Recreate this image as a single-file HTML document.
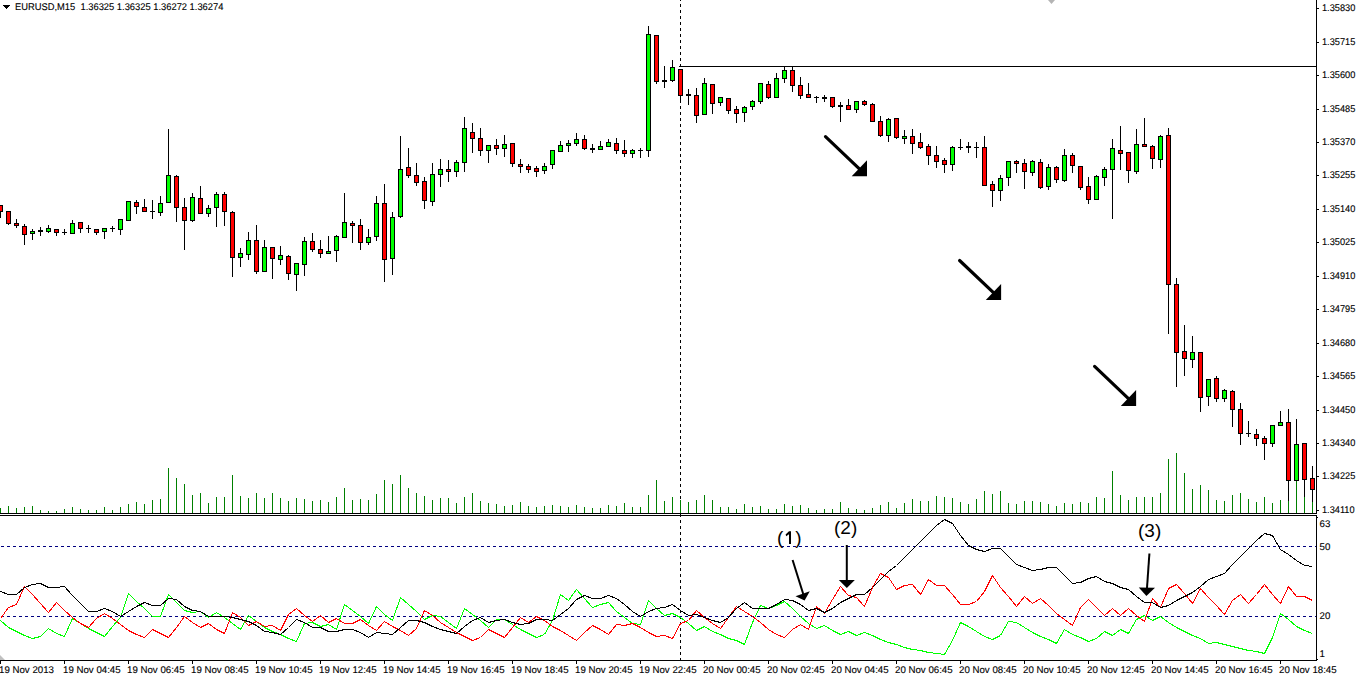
<!DOCTYPE html>
<html><head><meta charset="utf-8"><title>EURUSD,M15</title>
<style>
html,body{margin:0;padding:0;background:#fff;}
body{width:1359px;height:674px;overflow:hidden;font-family:"Liberation Sans",sans-serif;}
svg{display:block;}
</style></head><body>
<svg width="1359" height="674" viewBox="0 0 1359 674">
<rect width="1359" height="674" fill="#fff"/>
<path d="M680 0h1v1h-1zM680 4h1v3h-1zM680 10h1v3h-1zM680 16h1v3h-1zM680 22h1v3h-1zM680 28h1v3h-1zM680 34h1v3h-1zM680 40h1v3h-1zM680 46h1v3h-1zM680 52h1v3h-1zM680 58h1v3h-1zM680 64h1v3h-1zM680 70h1v3h-1zM680 76h1v3h-1zM680 82h1v3h-1zM680 88h1v3h-1zM680 94h1v3h-1zM680 100h1v3h-1zM680 106h1v3h-1zM680 112h1v3h-1zM680 118h1v3h-1zM680 124h1v3h-1zM680 130h1v3h-1zM680 136h1v3h-1zM680 142h1v3h-1zM680 148h1v3h-1zM680 154h1v3h-1zM680 160h1v3h-1zM680 166h1v3h-1zM680 172h1v3h-1zM680 178h1v3h-1zM680 184h1v3h-1zM680 190h1v3h-1zM680 196h1v3h-1zM680 202h1v3h-1zM680 208h1v3h-1zM680 214h1v3h-1zM680 220h1v3h-1zM680 226h1v3h-1zM680 232h1v3h-1zM680 238h1v3h-1zM680 244h1v3h-1zM680 250h1v3h-1zM680 256h1v3h-1zM680 262h1v3h-1zM680 268h1v3h-1zM680 274h1v3h-1zM680 280h1v3h-1zM680 286h1v3h-1zM680 292h1v3h-1zM680 298h1v3h-1zM680 304h1v3h-1zM680 310h1v3h-1zM680 316h1v3h-1zM680 322h1v3h-1zM680 328h1v3h-1zM680 334h1v3h-1zM680 340h1v3h-1zM680 346h1v3h-1zM680 352h1v3h-1zM680 358h1v3h-1zM680 364h1v3h-1zM680 370h1v3h-1zM680 376h1v3h-1zM680 382h1v3h-1zM680 388h1v3h-1zM680 394h1v3h-1zM680 400h1v3h-1zM680 406h1v3h-1zM680 412h1v3h-1zM680 418h1v3h-1zM680 424h1v3h-1zM680 430h1v3h-1zM680 436h1v3h-1zM680 442h1v3h-1zM680 448h1v3h-1zM680 454h1v3h-1zM680 460h1v3h-1zM680 466h1v3h-1zM680 472h1v3h-1zM680 478h1v3h-1zM680 484h1v3h-1zM680 490h1v3h-1zM680 496h1v3h-1zM680 502h1v3h-1zM680 508h1v3h-1zM680 514h1v3h-1zM680 520h1v3h-1zM680 526h1v3h-1zM680 532h1v3h-1zM680 538h1v3h-1zM680 544h1v3h-1zM680 550h1v3h-1zM680 556h1v3h-1zM680 562h1v3h-1zM680 568h1v3h-1zM680 574h1v3h-1zM680 580h1v3h-1zM680 586h1v3h-1zM680 592h1v3h-1zM680 598h1v3h-1zM680 604h1v3h-1zM680 610h1v3h-1zM680 616h1v3h-1zM680 622h1v3h-1zM680 628h1v3h-1zM680 634h1v3h-1zM680 640h1v3h-1zM680 646h1v3h-1zM680 652h1v3h-1zM680 658h1v3h-1z" fill="#000"/>
<path d="M1 546h3v1h-3zM7 546h3v1h-3zM13 546h3v1h-3zM19 546h3v1h-3zM25 546h3v1h-3zM31 546h3v1h-3zM37 546h3v1h-3zM43 546h3v1h-3zM49 546h3v1h-3zM55 546h3v1h-3zM61 546h3v1h-3zM67 546h3v1h-3zM73 546h3v1h-3zM79 546h3v1h-3zM85 546h3v1h-3zM91 546h3v1h-3zM97 546h3v1h-3zM103 546h3v1h-3zM109 546h3v1h-3zM115 546h3v1h-3zM121 546h3v1h-3zM127 546h3v1h-3zM133 546h3v1h-3zM139 546h3v1h-3zM145 546h3v1h-3zM151 546h3v1h-3zM157 546h3v1h-3zM163 546h3v1h-3zM169 546h3v1h-3zM175 546h3v1h-3zM181 546h3v1h-3zM187 546h3v1h-3zM193 546h3v1h-3zM199 546h3v1h-3zM205 546h3v1h-3zM211 546h3v1h-3zM217 546h3v1h-3zM223 546h3v1h-3zM229 546h3v1h-3zM235 546h3v1h-3zM241 546h3v1h-3zM247 546h3v1h-3zM253 546h3v1h-3zM259 546h3v1h-3zM265 546h3v1h-3zM271 546h3v1h-3zM277 546h3v1h-3zM283 546h3v1h-3zM289 546h3v1h-3zM295 546h3v1h-3zM301 546h3v1h-3zM307 546h3v1h-3zM313 546h3v1h-3zM319 546h3v1h-3zM325 546h3v1h-3zM331 546h3v1h-3zM337 546h3v1h-3zM343 546h3v1h-3zM349 546h3v1h-3zM355 546h3v1h-3zM361 546h3v1h-3zM367 546h3v1h-3zM373 546h3v1h-3zM379 546h3v1h-3zM385 546h3v1h-3zM391 546h3v1h-3zM397 546h3v1h-3zM403 546h3v1h-3zM409 546h3v1h-3zM415 546h3v1h-3zM421 546h3v1h-3zM427 546h3v1h-3zM433 546h3v1h-3zM439 546h3v1h-3zM445 546h3v1h-3zM451 546h3v1h-3zM457 546h3v1h-3zM463 546h3v1h-3zM469 546h3v1h-3zM475 546h3v1h-3zM481 546h3v1h-3zM487 546h3v1h-3zM493 546h3v1h-3zM499 546h3v1h-3zM505 546h3v1h-3zM511 546h3v1h-3zM517 546h3v1h-3zM523 546h3v1h-3zM529 546h3v1h-3zM535 546h3v1h-3zM541 546h3v1h-3zM547 546h3v1h-3zM553 546h3v1h-3zM559 546h3v1h-3zM565 546h3v1h-3zM571 546h3v1h-3zM577 546h3v1h-3zM583 546h3v1h-3zM589 546h3v1h-3zM595 546h3v1h-3zM601 546h3v1h-3zM607 546h3v1h-3zM613 546h3v1h-3zM619 546h3v1h-3zM625 546h3v1h-3zM631 546h3v1h-3zM637 546h3v1h-3zM643 546h3v1h-3zM649 546h3v1h-3zM655 546h3v1h-3zM661 546h3v1h-3zM667 546h3v1h-3zM673 546h3v1h-3zM679 546h3v1h-3zM685 546h3v1h-3zM691 546h3v1h-3zM697 546h3v1h-3zM703 546h3v1h-3zM709 546h3v1h-3zM715 546h3v1h-3zM721 546h3v1h-3zM727 546h3v1h-3zM733 546h3v1h-3zM739 546h3v1h-3zM745 546h3v1h-3zM751 546h3v1h-3zM757 546h3v1h-3zM763 546h3v1h-3zM769 546h3v1h-3zM775 546h3v1h-3zM781 546h3v1h-3zM787 546h3v1h-3zM793 546h3v1h-3zM799 546h3v1h-3zM805 546h3v1h-3zM811 546h3v1h-3zM817 546h3v1h-3zM823 546h3v1h-3zM829 546h3v1h-3zM835 546h3v1h-3zM841 546h3v1h-3zM847 546h3v1h-3zM853 546h3v1h-3zM859 546h3v1h-3zM865 546h3v1h-3zM871 546h3v1h-3zM877 546h3v1h-3zM883 546h3v1h-3zM889 546h3v1h-3zM895 546h3v1h-3zM901 546h3v1h-3zM907 546h3v1h-3zM913 546h3v1h-3zM919 546h3v1h-3zM925 546h3v1h-3zM931 546h3v1h-3zM937 546h3v1h-3zM943 546h3v1h-3zM949 546h3v1h-3zM955 546h3v1h-3zM961 546h3v1h-3zM967 546h3v1h-3zM973 546h3v1h-3zM979 546h3v1h-3zM985 546h3v1h-3zM991 546h3v1h-3zM997 546h3v1h-3zM1003 546h3v1h-3zM1009 546h3v1h-3zM1015 546h3v1h-3zM1021 546h3v1h-3zM1027 546h3v1h-3zM1033 546h3v1h-3zM1039 546h3v1h-3zM1045 546h3v1h-3zM1051 546h3v1h-3zM1057 546h3v1h-3zM1063 546h3v1h-3zM1069 546h3v1h-3zM1075 546h3v1h-3zM1081 546h3v1h-3zM1087 546h3v1h-3zM1093 546h3v1h-3zM1099 546h3v1h-3zM1105 546h3v1h-3zM1111 546h3v1h-3zM1117 546h3v1h-3zM1123 546h3v1h-3zM1129 546h3v1h-3zM1135 546h3v1h-3zM1141 546h3v1h-3zM1147 546h3v1h-3zM1153 546h3v1h-3zM1159 546h3v1h-3zM1165 546h3v1h-3zM1171 546h3v1h-3zM1177 546h3v1h-3zM1183 546h3v1h-3zM1189 546h3v1h-3zM1195 546h3v1h-3zM1201 546h3v1h-3zM1207 546h3v1h-3zM1213 546h3v1h-3zM1219 546h3v1h-3zM1225 546h3v1h-3zM1231 546h3v1h-3zM1237 546h3v1h-3zM1243 546h3v1h-3zM1249 546h3v1h-3zM1255 546h3v1h-3zM1261 546h3v1h-3zM1267 546h3v1h-3zM1273 546h3v1h-3zM1279 546h3v1h-3zM1285 546h3v1h-3zM1291 546h3v1h-3zM1297 546h3v1h-3zM1303 546h3v1h-3zM1309 546h3v1h-3zM1315 546h1v1h-1z" fill="#000080"/>
<path d="M1 616h3v1h-3zM7 616h3v1h-3zM13 616h3v1h-3zM19 616h3v1h-3zM25 616h3v1h-3zM31 616h3v1h-3zM37 616h3v1h-3zM43 616h3v1h-3zM49 616h3v1h-3zM55 616h3v1h-3zM61 616h3v1h-3zM67 616h3v1h-3zM73 616h3v1h-3zM79 616h3v1h-3zM85 616h3v1h-3zM91 616h3v1h-3zM97 616h3v1h-3zM103 616h3v1h-3zM109 616h3v1h-3zM115 616h3v1h-3zM121 616h3v1h-3zM127 616h3v1h-3zM133 616h3v1h-3zM139 616h3v1h-3zM145 616h3v1h-3zM151 616h3v1h-3zM157 616h3v1h-3zM163 616h3v1h-3zM169 616h3v1h-3zM175 616h3v1h-3zM181 616h3v1h-3zM187 616h3v1h-3zM193 616h3v1h-3zM199 616h3v1h-3zM205 616h3v1h-3zM211 616h3v1h-3zM217 616h3v1h-3zM223 616h3v1h-3zM229 616h3v1h-3zM235 616h3v1h-3zM241 616h3v1h-3zM247 616h3v1h-3zM253 616h3v1h-3zM259 616h3v1h-3zM265 616h3v1h-3zM271 616h3v1h-3zM277 616h3v1h-3zM283 616h3v1h-3zM289 616h3v1h-3zM295 616h3v1h-3zM301 616h3v1h-3zM307 616h3v1h-3zM313 616h3v1h-3zM319 616h3v1h-3zM325 616h3v1h-3zM331 616h3v1h-3zM337 616h3v1h-3zM343 616h3v1h-3zM349 616h3v1h-3zM355 616h3v1h-3zM361 616h3v1h-3zM367 616h3v1h-3zM373 616h3v1h-3zM379 616h3v1h-3zM385 616h3v1h-3zM391 616h3v1h-3zM397 616h3v1h-3zM403 616h3v1h-3zM409 616h3v1h-3zM415 616h3v1h-3zM421 616h3v1h-3zM427 616h3v1h-3zM433 616h3v1h-3zM439 616h3v1h-3zM445 616h3v1h-3zM451 616h3v1h-3zM457 616h3v1h-3zM463 616h3v1h-3zM469 616h3v1h-3zM475 616h3v1h-3zM481 616h3v1h-3zM487 616h3v1h-3zM493 616h3v1h-3zM499 616h3v1h-3zM505 616h3v1h-3zM511 616h3v1h-3zM517 616h3v1h-3zM523 616h3v1h-3zM529 616h3v1h-3zM535 616h3v1h-3zM541 616h3v1h-3zM547 616h3v1h-3zM553 616h3v1h-3zM559 616h3v1h-3zM565 616h3v1h-3zM571 616h3v1h-3zM577 616h3v1h-3zM583 616h3v1h-3zM589 616h3v1h-3zM595 616h3v1h-3zM601 616h3v1h-3zM607 616h3v1h-3zM613 616h3v1h-3zM619 616h3v1h-3zM625 616h3v1h-3zM631 616h3v1h-3zM637 616h3v1h-3zM643 616h3v1h-3zM649 616h3v1h-3zM655 616h3v1h-3zM661 616h3v1h-3zM667 616h3v1h-3zM673 616h3v1h-3zM679 616h3v1h-3zM685 616h3v1h-3zM691 616h3v1h-3zM697 616h3v1h-3zM703 616h3v1h-3zM709 616h3v1h-3zM715 616h3v1h-3zM721 616h3v1h-3zM727 616h3v1h-3zM733 616h3v1h-3zM739 616h3v1h-3zM745 616h3v1h-3zM751 616h3v1h-3zM757 616h3v1h-3zM763 616h3v1h-3zM769 616h3v1h-3zM775 616h3v1h-3zM781 616h3v1h-3zM787 616h3v1h-3zM793 616h3v1h-3zM799 616h3v1h-3zM805 616h3v1h-3zM811 616h3v1h-3zM817 616h3v1h-3zM823 616h3v1h-3zM829 616h3v1h-3zM835 616h3v1h-3zM841 616h3v1h-3zM847 616h3v1h-3zM853 616h3v1h-3zM859 616h3v1h-3zM865 616h3v1h-3zM871 616h3v1h-3zM877 616h3v1h-3zM883 616h3v1h-3zM889 616h3v1h-3zM895 616h3v1h-3zM901 616h3v1h-3zM907 616h3v1h-3zM913 616h3v1h-3zM919 616h3v1h-3zM925 616h3v1h-3zM931 616h3v1h-3zM937 616h3v1h-3zM943 616h3v1h-3zM949 616h3v1h-3zM955 616h3v1h-3zM961 616h3v1h-3zM967 616h3v1h-3zM973 616h3v1h-3zM979 616h3v1h-3zM985 616h3v1h-3zM991 616h3v1h-3zM997 616h3v1h-3zM1003 616h3v1h-3zM1009 616h3v1h-3zM1015 616h3v1h-3zM1021 616h3v1h-3zM1027 616h3v1h-3zM1033 616h3v1h-3zM1039 616h3v1h-3zM1045 616h3v1h-3zM1051 616h3v1h-3zM1057 616h3v1h-3zM1063 616h3v1h-3zM1069 616h3v1h-3zM1075 616h3v1h-3zM1081 616h3v1h-3zM1087 616h3v1h-3zM1093 616h3v1h-3zM1099 616h3v1h-3zM1105 616h3v1h-3zM1111 616h3v1h-3zM1117 616h3v1h-3zM1123 616h3v1h-3zM1129 616h3v1h-3zM1135 616h3v1h-3zM1141 616h3v1h-3zM1147 616h3v1h-3zM1153 616h3v1h-3zM1159 616h3v1h-3zM1165 616h3v1h-3zM1171 616h3v1h-3zM1177 616h3v1h-3zM1183 616h3v1h-3zM1189 616h3v1h-3zM1195 616h3v1h-3zM1201 616h3v1h-3zM1207 616h3v1h-3zM1213 616h3v1h-3zM1219 616h3v1h-3zM1225 616h3v1h-3zM1231 616h3v1h-3zM1237 616h3v1h-3zM1243 616h3v1h-3zM1249 616h3v1h-3zM1255 616h3v1h-3zM1261 616h3v1h-3zM1267 616h3v1h-3zM1273 616h3v1h-3zM1279 616h3v1h-3zM1285 616h3v1h-3zM1291 616h3v1h-3zM1297 616h3v1h-3zM1303 616h3v1h-3zM1309 616h3v1h-3zM1315 616h1v1h-1z" fill="#000080"/>
<rect x="679" y="66" width="637" height="1" fill="#000"/>
<path d="M0 205h1v13h-1zM8 211h1v14h-1zM16 219h1v9h-1zM24 224h1v21h-1zM32 229h1v11h-1zM40 227h1v9h-1zM48 225h1v8h-1zM56 229h1v7h-1zM64 229h1v6h-1zM72 220h1v14h-1zM80 222h1v11h-1zM88 225h1v8h-1zM96 229h1v6h-1zM104 228h1v11h-1zM112 226h1v6h-1zM120 219h1v16h-1zM128 201h1v20h-1zM136 200h1v14h-1zM144 199h1v13h-1zM152 200h1v19h-1zM160 196h1v20h-1zM168 129h1v74h-1zM176 175h1v47h-1zM184 198h1v52h-1zM192 193h1v29h-1zM200 186h1v28h-1zM208 205h1v12h-1zM216 192h1v35h-1zM224 192h1v34h-1zM232 211h1v66h-1zM240 248h1v19h-1zM248 232h1v28h-1zM256 225h1v49h-1zM264 240h1v32h-1zM272 247h1v32h-1zM280 246h1v19h-1zM288 255h1v25h-1zM296 263h1v28h-1zM304 237h1v39h-1zM312 233h1v19h-1zM320 240h1v18h-1zM328 236h1v18h-1zM336 235h1v27h-1zM344 193h1v45h-1zM352 221h1v22h-1zM360 219h1v31h-1zM368 229h1v16h-1zM376 196h1v45h-1zM384 184h1v98h-1zM392 212h1v63h-1zM400 136h1v82h-1zM408 148h1v30h-1zM416 163h1v23h-1zM424 177h1v32h-1zM432 163h1v43h-1zM440 159h1v28h-1zM448 160h1v22h-1zM456 160h1v17h-1zM464 117h1v55h-1zM472 123h1v30h-1zM480 128h1v28h-1zM488 145h1v18h-1zM496 139h1v16h-1zM504 135h1v22h-1zM512 143h1v24h-1zM520 159h1v14h-1zM528 164h1v9h-1zM536 166h1v11h-1zM544 163h1v11h-1zM552 150h1v19h-1zM560 141h1v11h-1zM568 140h1v12h-1zM576 133h1v13h-1zM584 135h1v15h-1zM592 144h1v9h-1zM600 141h1v9h-1zM608 139h1v8h-1zM616 138h1v16h-1zM624 140h1v17h-1zM632 149h1v9h-1zM640 148h1v10h-1zM648 26h1v131h-1zM656 35h1v49h-1zM664 66h1v22h-1zM672 60h1v22h-1zM680 69h1v34h-1zM688 89h1v16h-1zM696 88h1v35h-1zM704 78h1v37h-1zM712 84h1v30h-1zM720 97h1v9h-1zM728 98h1v16h-1zM736 106h1v17h-1zM744 106h1v16h-1zM752 100h1v10h-1zM760 83h1v21h-1zM768 81h1v18h-1zM776 73h1v25h-1zM784 67h1v16h-1zM792 67h1v25h-1zM800 77h1v22h-1zM808 83h1v15h-1zM816 96h1v7h-1zM824 95h1v7h-1zM832 97h1v11h-1zM840 102h1v20h-1zM848 99h1v11h-1zM856 101h1v12h-1zM864 100h1v6h-1zM872 103h1v19h-1zM880 116h1v21h-1zM888 118h1v24h-1zM896 118h1v21h-1zM904 130h1v14h-1zM912 129h1v25h-1zM920 133h1v16h-1zM928 144h1v21h-1zM936 146h1v22h-1zM944 158h1v15h-1zM952 146h1v25h-1zM960 139h1v11h-1zM968 142h1v11h-1zM976 142h1v16h-1zM984 136h1v50h-1zM992 181h1v26h-1zM1000 175h1v26h-1zM1008 161h1v25h-1zM1016 160h1v13h-1zM1024 159h1v30h-1zM1032 160h1v16h-1zM1040 159h1v30h-1zM1048 164h1v26h-1zM1056 166h1v17h-1zM1064 149h1v33h-1zM1072 153h1v20h-1zM1080 166h1v24h-1zM1088 177h1v27h-1zM1096 175h1v25h-1zM1104 167h1v19h-1zM1112 139h1v80h-1zM1120 126h1v44h-1zM1128 152h1v31h-1zM1136 129h1v45h-1zM1144 118h1v29h-1zM1152 145h1v24h-1zM1160 135h1v33h-1zM1168 128h1v206h-1zM1176 278h1v109h-1zM1184 325h1v51h-1zM1192 336h1v32h-1zM1200 352h1v60h-1zM1208 379h1v27h-1zM1216 376h1v26h-1zM1224 389h1v13h-1zM1232 390h1v37h-1zM1240 403h1v42h-1zM1248 421h1v16h-1zM1256 429h1v17h-1zM1264 436h1v24h-1zM1272 425h1v22h-1zM1280 411h1v15h-1zM1288 409h1v104h-1zM1296 419h1v62h-1zM1304 443h1v70h-1zM1312 466h1v47h-1z" fill="#000"/>
<path d="M-2 205h5v7h-5zM6 211h5v13h-5zM14 223h5v3h-5zM22 226h5v9h-5zM30 231h5v3h-5zM38 230h5v2h-5zM46 228h5v4h-5zM54 229h5v4h-5zM62 232h5v1h-5zM70 223h5v11h-5zM78 222h5v7h-5zM86 228h5v1h-5zM94 229h5v4h-5zM102 228h5v4h-5zM110 228h5v1h-5zM118 219h5v11h-5zM126 201h5v20h-5zM134 202h5v5h-5zM142 207h5v5h-5zM150 211h5v1h-5zM158 203h5v10h-5zM166 175h5v28h-5zM174 176h5v32h-5zM182 207h5v14h-5zM190 197h5v24h-5zM198 198h5v16h-5zM206 208h5v6h-5zM214 194h5v14h-5zM222 194h5v18h-5zM230 212h5v46h-5zM238 253h5v5h-5zM246 240h5v15h-5zM254 240h5v32h-5zM262 247h5v25h-5zM270 247h5v12h-5zM278 255h5v5h-5zM286 256h5v18h-5zM294 263h5v12h-5zM302 241h5v24h-5zM310 241h5v9h-5zM318 249h5v5h-5zM326 251h5v3h-5zM334 236h5v15h-5zM342 222h5v16h-5zM350 223h5v3h-5zM358 225h5v18h-5zM366 237h5v6h-5zM374 203h5v34h-5zM382 203h5v57h-5zM390 217h5v42h-5zM398 169h5v48h-5zM406 167h5v9h-5zM414 175h5v8h-5zM422 181h5v20h-5zM430 174h5v28h-5zM438 169h5v6h-5zM446 169h5v3h-5zM454 162h5v10h-5zM462 128h5v35h-5zM470 132h5v7h-5zM478 138h5v13h-5zM486 145h5v6h-5zM494 145h5v4h-5zM502 144h5v5h-5zM510 143h5v21h-5zM518 164h5v3h-5zM526 166h5v4h-5zM534 168h5v4h-5zM542 166h5v5h-5zM550 150h5v15h-5zM558 145h5v7h-5zM566 143h5v3h-5zM574 139h5v5h-5zM582 139h5v10h-5zM590 148h5v2h-5zM598 146h5v4h-5zM606 142h5v5h-5zM614 143h5v8h-5zM622 150h5v4h-5zM630 150h5v4h-5zM638 150h5v1h-5zM646 34h5v117h-5zM654 35h5v47h-5zM662 80h5v2h-5zM670 67h5v14h-5zM678 69h5v27h-5zM686 94h5v2h-5zM694 95h5v21h-5zM702 83h5v32h-5zM710 84h5v20h-5zM718 97h5v6h-5zM726 98h5v13h-5zM734 109h5v5h-5zM742 107h5v6h-5zM750 101h5v6h-5zM758 83h5v19h-5zM766 84h5v14h-5zM774 78h5v20h-5zM782 70h5v9h-5zM790 70h5v16h-5zM798 85h5v11h-5zM806 94h5v4h-5zM814 97h5v1h-5zM822 97h5v2h-5zM830 97h5v10h-5zM838 105h5v2h-5zM846 105h5v5h-5zM854 101h5v9h-5zM862 101h5v4h-5zM870 104h5v18h-5zM878 121h5v15h-5zM886 119h5v17h-5zM894 118h5v20h-5zM902 136h5v3h-5zM910 136h5v8h-5zM918 142h5v6h-5zM926 146h5v10h-5zM934 155h5v7h-5zM942 160h5v5h-5zM950 147h5v18h-5zM958 147h5v1h-5zM966 146h5v2h-5zM974 147h5v1h-5zM982 147h5v39h-5zM990 184h5v7h-5zM998 178h5v13h-5zM1006 161h5v17h-5zM1014 161h5v3h-5zM1022 163h5v9h-5zM1030 161h5v12h-5zM1038 162h5v26h-5zM1046 167h5v20h-5zM1054 167h5v13h-5zM1062 155h5v26h-5zM1070 155h5v11h-5zM1078 166h5v22h-5zM1086 186h5v14h-5zM1094 176h5v24h-5zM1102 169h5v9h-5zM1110 148h5v22h-5zM1118 150h5v4h-5zM1126 152h5v19h-5zM1134 144h5v28h-5zM1142 144h5v3h-5zM1150 146h5v13h-5zM1158 136h5v24h-5zM1166 135h5v150h-5zM1174 284h5v69h-5zM1182 351h5v8h-5zM1190 352h5v8h-5zM1198 352h5v46h-5zM1206 379h5v18h-5zM1214 378h5v21h-5zM1222 390h5v9h-5zM1230 391h5v19h-5zM1238 409h5v25h-5zM1246 433h5v1h-5zM1254 434h5v5h-5zM1262 438h5v6h-5zM1270 425h5v19h-5zM1278 422h5v4h-5zM1286 422h5v59h-5zM1294 444h5v37h-5zM1302 443h5v37h-5zM1310 478h5v12h-5z" fill="#000"/>
<path d="M31 232h3v1h-3zM47 229h3v2h-3zM71 224h3v9h-3zM103 229h3v2h-3zM119 220h3v9h-3zM127 202h3v18h-3zM159 204h3v8h-3zM167 176h3v26h-3zM191 198h3v22h-3zM207 209h3v4h-3zM215 195h3v12h-3zM239 254h3v3h-3zM247 241h3v13h-3zM263 248h3v23h-3zM279 256h3v3h-3zM295 264h3v10h-3zM303 242h3v22h-3zM327 252h3v1h-3zM335 237h3v13h-3zM343 223h3v14h-3zM367 238h3v4h-3zM375 204h3v32h-3zM391 218h3v40h-3zM399 170h3v46h-3zM431 175h3v26h-3zM439 170h3v4h-3zM455 163h3v8h-3zM463 129h3v33h-3zM487 146h3v4h-3zM503 145h3v3h-3zM543 167h3v3h-3zM551 151h3v13h-3zM559 146h3v5h-3zM567 144h3v1h-3zM575 140h3v3h-3zM599 147h3v2h-3zM607 143h3v3h-3zM631 151h3v2h-3zM647 35h3v115h-3zM671 68h3v12h-3zM703 84h3v30h-3zM719 98h3v4h-3zM743 108h3v4h-3zM751 102h3v4h-3zM759 84h3v17h-3zM775 79h3v18h-3zM783 71h3v7h-3zM855 102h3v7h-3zM887 120h3v15h-3zM903 137h3v1h-3zM951 148h3v16h-3zM999 179h3v11h-3zM1007 162h3v15h-3zM1031 162h3v10h-3zM1047 168h3v18h-3zM1063 156h3v24h-3zM1095 177h3v22h-3zM1103 170h3v7h-3zM1111 149h3v20h-3zM1135 145h3v26h-3zM1159 137h3v22h-3zM1191 353h3v6h-3zM1207 380h3v16h-3zM1223 391h3v7h-3zM1271 426h3v17h-3zM1279 423h3v2h-3zM1295 445h3v35h-3z" fill="#00ff00"/>
<path d="M-1 206h3v5h-3zM7 212h3v11h-3zM15 224h3v1h-3zM23 227h3v7h-3zM55 230h3v2h-3zM79 223h3v5h-3zM95 230h3v2h-3zM135 203h3v3h-3zM143 208h3v3h-3zM175 177h3v30h-3zM183 208h3v12h-3zM199 199h3v14h-3zM223 195h3v16h-3zM231 213h3v44h-3zM255 241h3v30h-3zM271 248h3v10h-3zM287 257h3v16h-3zM311 242h3v7h-3zM319 250h3v3h-3zM351 224h3v1h-3zM359 226h3v16h-3zM383 204h3v55h-3zM407 168h3v7h-3zM415 176h3v6h-3zM423 182h3v18h-3zM447 170h3v1h-3zM471 133h3v5h-3zM479 139h3v11h-3zM495 146h3v2h-3zM511 144h3v19h-3zM519 165h3v1h-3zM527 167h3v2h-3zM535 169h3v2h-3zM583 140h3v8h-3zM615 144h3v6h-3zM623 151h3v2h-3zM655 36h3v45h-3zM679 70h3v25h-3zM695 96h3v19h-3zM711 85h3v18h-3zM727 99h3v11h-3zM735 110h3v3h-3zM767 85h3v12h-3zM791 71h3v14h-3zM799 86h3v9h-3zM807 95h3v2h-3zM831 98h3v8h-3zM847 106h3v3h-3zM863 102h3v2h-3zM871 105h3v16h-3zM879 122h3v13h-3zM895 119h3v18h-3zM911 137h3v6h-3zM919 143h3v4h-3zM927 147h3v8h-3zM935 156h3v5h-3zM943 161h3v3h-3zM983 148h3v37h-3zM991 185h3v5h-3zM1015 162h3v1h-3zM1023 164h3v7h-3zM1039 163h3v24h-3zM1055 168h3v11h-3zM1071 156h3v9h-3zM1079 167h3v20h-3zM1087 187h3v12h-3zM1119 151h3v2h-3zM1127 153h3v17h-3zM1143 145h3v1h-3zM1151 147h3v11h-3zM1167 136h3v148h-3zM1175 285h3v67h-3zM1183 352h3v6h-3zM1199 353h3v44h-3zM1215 379h3v19h-3zM1231 392h3v17h-3zM1239 410h3v23h-3zM1255 435h3v3h-3zM1263 439h3v4h-3zM1287 423h3v57h-3zM1303 444h3v35h-3zM1311 479h3v10h-3z" fill="#ff0000"/>
<path d="M0 508h1v5h-1zM8 506h1v7h-1zM16 508h1v5h-1zM24 507h1v6h-1zM32 506h1v7h-1zM40 510h1v3h-1zM48 511h1v2h-1zM56 511h1v2h-1zM64 509h1v4h-1zM72 507h1v6h-1zM80 509h1v4h-1zM88 510h1v3h-1zM96 510h1v3h-1zM104 507h1v6h-1zM112 510h1v3h-1zM120 507h1v6h-1zM128 504h1v9h-1zM136 502h1v11h-1zM144 504h1v9h-1zM152 500h1v13h-1zM160 499h1v14h-1zM168 468h1v45h-1zM176 478h1v35h-1zM184 484h1v29h-1zM192 495h1v18h-1zM200 493h1v20h-1zM208 503h1v10h-1zM216 497h1v16h-1zM224 497h1v16h-1zM232 475h1v38h-1zM240 496h1v17h-1zM248 498h1v15h-1zM256 493h1v20h-1zM264 498h1v15h-1zM272 493h1v20h-1zM280 498h1v15h-1zM288 501h1v12h-1zM296 498h1v15h-1zM304 499h1v14h-1zM312 501h1v12h-1zM320 500h1v13h-1zM328 502h1v11h-1zM336 497h1v16h-1zM344 488h1v25h-1zM352 500h1v13h-1zM360 499h1v14h-1zM368 500h1v13h-1zM376 494h1v19h-1zM384 480h1v33h-1zM392 484h1v29h-1zM400 475h1v38h-1zM408 488h1v25h-1zM416 493h1v20h-1zM424 496h1v17h-1zM432 500h1v13h-1zM440 498h1v15h-1zM448 498h1v15h-1zM456 503h1v10h-1zM464 497h1v16h-1zM472 493h1v20h-1zM480 501h1v12h-1zM488 503h1v10h-1zM496 504h1v9h-1zM504 506h1v7h-1zM512 505h1v8h-1zM520 502h1v11h-1zM528 506h1v7h-1zM536 507h1v6h-1zM544 506h1v7h-1zM552 505h1v8h-1zM560 506h1v7h-1zM568 507h1v6h-1zM576 505h1v8h-1zM584 507h1v6h-1zM592 508h1v5h-1zM600 508h1v5h-1zM608 505h1v8h-1zM616 506h1v7h-1zM624 503h1v10h-1zM632 507h1v6h-1zM640 507h1v6h-1zM648 495h1v18h-1zM656 480h1v33h-1zM664 501h1v12h-1zM672 497h1v16h-1zM680 500h1v13h-1zM688 502h1v11h-1zM696 500h1v13h-1zM704 495h1v18h-1zM712 500h1v13h-1zM720 507h1v6h-1zM728 507h1v6h-1zM736 509h1v4h-1zM744 504h1v9h-1zM752 507h1v6h-1zM760 506h1v7h-1zM768 509h1v4h-1zM776 509h1v4h-1zM784 504h1v9h-1zM792 506h1v7h-1zM800 505h1v8h-1zM808 508h1v5h-1zM816 510h1v3h-1zM824 509h1v4h-1zM832 509h1v4h-1zM840 502h1v11h-1zM848 508h1v5h-1zM856 509h1v4h-1zM864 510h1v3h-1zM872 508h1v5h-1zM880 505h1v8h-1zM888 502h1v11h-1zM896 508h1v5h-1zM904 503h1v10h-1zM912 499h1v14h-1zM920 501h1v12h-1zM928 501h1v12h-1zM936 496h1v17h-1zM944 497h1v16h-1zM952 498h1v15h-1zM960 502h1v11h-1zM968 504h1v9h-1zM976 499h1v14h-1zM984 491h1v22h-1zM992 494h1v19h-1zM1000 491h1v22h-1zM1008 503h1v10h-1zM1016 504h1v9h-1zM1024 501h1v12h-1zM1032 501h1v12h-1zM1040 502h1v11h-1zM1048 504h1v9h-1zM1056 506h1v7h-1zM1064 503h1v10h-1zM1072 504h1v9h-1zM1080 502h1v11h-1zM1088 503h1v10h-1zM1096 497h1v16h-1zM1104 498h1v15h-1zM1112 471h1v42h-1zM1120 495h1v18h-1zM1128 500h1v13h-1zM1136 497h1v16h-1zM1144 497h1v16h-1zM1152 497h1v16h-1zM1160 493h1v20h-1zM1168 459h1v54h-1zM1176 453h1v60h-1zM1184 473h1v40h-1zM1192 489h1v24h-1zM1200 485h1v28h-1zM1208 490h1v23h-1zM1216 500h1v13h-1zM1224 501h1v12h-1zM1232 495h1v18h-1zM1240 493h1v20h-1zM1248 499h1v14h-1zM1256 502h1v11h-1zM1264 497h1v16h-1zM1272 503h1v10h-1zM1280 500h1v13h-1zM1288 501h1v12h-1zM1296 481h1v32h-1zM1304 497h1v16h-1zM1312 502h1v11h-1z" fill="#008000"/>
<rect x="0" y="513" width="1316" height="1" fill="#000"/>
<rect x="0" y="515" width="1316" height="1" fill="#000"/>
<rect x="0" y="660" width="1317" height="1" fill="#000"/>
<rect x="1316" y="0" width="1" height="514" fill="#000"/>
<rect x="1316" y="515" width="1" height="146" fill="#000"/>
<polyline points="0.5,620.5 8.5,627.5 16.5,631.5 24.5,635.5 32.5,638.5 40.5,636.5 48.5,628.5 56.5,633.5 64.5,636.5 72.5,618.5 80.5,623.5 88.5,628.5 96.5,632.5 104.5,636.5 112.5,626.5 120.5,617.5 128.5,593.5 136.5,601.5 144.5,608.5 152.5,616.5 160.5,616.5 168.5,594.5 176.5,602.5 184.5,610.5 192.5,612.5 200.5,611.5 208.5,617.5 216.5,612.5 224.5,617.5 232.5,623.5 240.5,629.5 248.5,615.5 256.5,621.5 264.5,627.5 272.5,631.5 280.5,634.5 288.5,638.5 296.5,641.5 304.5,623.5 312.5,622.5 320.5,626.5 328.5,624.5 336.5,629.5 344.5,604.5 352.5,610.5 360.5,616.5 368.5,623.5 376.5,606.5 384.5,614.5 392.5,620.5 400.5,597.5 408.5,604.5 416.5,611.5 424.5,619.5 432.5,615.5 440.5,616.5 448.5,622.5 456.5,628.5 464.5,608.5 472.5,614.5 480.5,620.5 488.5,627.5 496.5,619.5 504.5,619.5 512.5,624.5 520.5,629.5 528.5,633.5 536.5,637.5 544.5,634.5 552.5,620.5 560.5,594.5 568.5,600.5 576.5,589.5 584.5,598.5 592.5,607.5 600.5,604.5 608.5,602.5 616.5,611.5 624.5,617.5 632.5,623.5 640.5,624.5 648.5,600.5 656.5,608.5 664.5,615.5 672.5,613.5 680.5,617.5 688.5,623.5 696.5,630.5 704.5,626.5 712.5,631.5 720.5,634.5 728.5,638.5 736.5,640.5 744.5,644.5 752.5,622.5 760.5,605.5 768.5,608.5 776.5,605.5 784.5,601.5 792.5,608.5 800.5,616.5 808.5,623.5 816.5,628.5 824.5,625.5 832.5,630.5 840.5,634.5 848.5,631.5 856.5,635.5 864.5,632.5 872.5,635.5 880.5,639.5 888.5,642.5 896.5,644.5 904.5,647.5 912.5,649.5 920.5,650.5 928.5,652.5 936.5,653.5 944.5,654.5 952.5,640.5 960.5,622.5 968.5,626.5 976.5,631.5 984.5,636.5 992.5,639.5 1000.5,635.5 1008.5,621.5 1016.5,622.5 1024.5,627.5 1032.5,632.5 1040.5,636.5 1048.5,639.5 1056.5,643.5 1064.5,629.5 1072.5,634.5 1080.5,637.5 1088.5,641.5 1096.5,638.5 1104.5,631.5 1112.5,635.5 1120.5,629.5 1128.5,633.5 1136.5,619.5 1144.5,615.5 1152.5,620.5 1160.5,616.5 1168.5,622.5 1176.5,627.5 1184.5,631.5 1192.5,635.5 1200.5,638.5 1208.5,643.5 1216.5,642.5 1224.5,644.5 1232.5,646.5 1240.5,648.5 1248.5,650.5 1256.5,651.5 1264.5,653.5 1272.5,637.5 1280.5,613.5 1288.5,619.5 1296.5,626.5 1304.5,630.5 1312.5,633.5" fill="none" stroke="#00ff00" stroke-width="1" shape-rendering="crispEdges"/>
<polyline points="0.5,618.5 8.5,607.5 16.5,604.5 24.5,586.5 32.5,594.5 40.5,603.5 48.5,612.5 56.5,602.5 64.5,610.5 72.5,617.5 80.5,623.5 88.5,627.5 96.5,618.5 104.5,613.5 112.5,618.5 120.5,624.5 128.5,630.5 136.5,634.5 144.5,637.5 152.5,629.5 160.5,633.5 168.5,637.5 176.5,627.5 184.5,616.5 192.5,622.5 200.5,627.5 208.5,623.5 216.5,629.5 224.5,633.5 232.5,612.5 240.5,617.5 248.5,625.5 256.5,621.5 264.5,626.5 272.5,625.5 280.5,630.5 288.5,614.5 296.5,608.5 304.5,615.5 312.5,621.5 320.5,615.5 328.5,622.5 336.5,618.5 344.5,623.5 352.5,623.5 360.5,619.5 368.5,625.5 376.5,630.5 384.5,621.5 392.5,626.5 400.5,630.5 408.5,635.5 416.5,628.5 424.5,610.5 432.5,615.5 440.5,622.5 448.5,627.5 456.5,632.5 464.5,636.5 472.5,640.5 480.5,637.5 488.5,629.5 496.5,633.5 504.5,637.5 512.5,627.5 520.5,617.5 528.5,622.5 536.5,616.5 544.5,620.5 552.5,626.5 560.5,630.5 568.5,635.5 576.5,640.5 584.5,632.5 592.5,625.5 600.5,629.5 608.5,634.5 616.5,624.5 624.5,625.5 632.5,623.5 640.5,627.5 648.5,632.5 656.5,636.5 664.5,635.5 672.5,638.5 680.5,623.5 688.5,620.5 696.5,610.5 704.5,617.5 712.5,623.5 720.5,628.5 728.5,617.5 736.5,606.5 744.5,611.5 752.5,616.5 760.5,622.5 768.5,629.5 776.5,634.5 784.5,637.5 792.5,629.5 800.5,624.5 808.5,629.5 816.5,606.5 824.5,613.5 832.5,599.5 840.5,586.5 848.5,595.5 856.5,597.5 864.5,606.5 872.5,587.5 880.5,573.5 888.5,577.5 896.5,589.5 904.5,585.5 912.5,584.5 920.5,594.5 928.5,579.5 936.5,585.5 944.5,585.5 952.5,594.5 960.5,604.5 968.5,604.5 976.5,601.5 984.5,591.5 992.5,575.5 1000.5,587.5 1008.5,596.5 1016.5,606.5 1024.5,596.5 1032.5,603.5 1040.5,598.5 1048.5,605.5 1056.5,613.5 1064.5,619.5 1072.5,625.5 1080.5,607.5 1088.5,599.5 1096.5,607.5 1104.5,615.5 1112.5,608.5 1120.5,615.5 1128.5,608.5 1136.5,615.5 1144.5,621.5 1152.5,598.5 1160.5,607.5 1168.5,588.5 1176.5,584.5 1184.5,593.5 1192.5,603.5 1200.5,588.5 1208.5,597.5 1216.5,605.5 1224.5,614.5 1232.5,600.5 1240.5,594.5 1248.5,603.5 1256.5,594.5 1264.5,584.5 1272.5,594.5 1280.5,603.5 1288.5,586.5 1296.5,596.5 1304.5,596.5 1312.5,600.5" fill="none" stroke="#ff0000" stroke-width="1" shape-rendering="crispEdges"/>
<polyline points="0.5,591.5 8.5,594.5 16.5,594.5 24.5,587.5 32.5,584.5 40.5,583.5 48.5,587.5 56.5,587.5 64.5,586.5 72.5,595.5 80.5,603.5 88.5,611.5 96.5,611.5 104.5,608.5 112.5,611.5 120.5,616.5 128.5,611.5 136.5,606.5 144.5,602.5 152.5,605.5 160.5,605.5 168.5,598.5 176.5,599.5 184.5,606.5 192.5,610.5 200.5,611.5 208.5,616.5 216.5,616.5 224.5,616.5 232.5,617.5 240.5,619.5 248.5,621.5 256.5,625.5 264.5,631.5 272.5,632.5 280.5,634.5 288.5,627.5 296.5,619.5 304.5,622.5 312.5,627.5 320.5,627.5 328.5,631.5 336.5,631.5 344.5,629.5 352.5,629.5 360.5,632.5 368.5,637.5 376.5,632.5 384.5,633.5 392.5,634.5 400.5,627.5 408.5,620.5 416.5,620.5 424.5,622.5 432.5,626.5 440.5,629.5 448.5,631.5 456.5,633.5 464.5,626.5 472.5,620.5 480.5,617.5 488.5,622.5 496.5,620.5 504.5,619.5 512.5,622.5 520.5,624.5 528.5,623.5 536.5,619.5 544.5,619.5 552.5,620.5 560.5,614.5 568.5,608.5 576.5,599.5 584.5,595.5 592.5,598.5 600.5,598.5 608.5,595.5 616.5,598.5 624.5,604.5 632.5,611.5 640.5,616.5 648.5,611.5 656.5,608.5 664.5,607.5 672.5,604.5 680.5,610.5 688.5,615.5 696.5,614.5 704.5,617.5 712.5,620.5 720.5,622.5 728.5,617.5 736.5,608.5 744.5,602.5 752.5,608.5 760.5,608.5 768.5,608.5 776.5,604.5 784.5,599.5 792.5,600.5 800.5,604.5 808.5,610.5 816.5,608.5 824.5,612.5 832.5,608.5 840.5,602.5 848.5,598.5 856.5,594.5 864.5,594.5 872.5,587.5 880.5,579.5 888.5,571.5 896.5,565.5 904.5,557.5 912.5,549.5 920.5,541.5 928.5,533.5 936.5,525.5 944.5,519.5 952.5,523.5 960.5,535.5 968.5,545.5 976.5,549.5 984.5,551.5 992.5,548.5 1000.5,548.5 1008.5,556.5 1016.5,564.5 1024.5,567.5 1032.5,570.5 1040.5,569.5 1048.5,567.5 1056.5,567.5 1064.5,575.5 1072.5,583.5 1080.5,582.5 1088.5,578.5 1096.5,576.5 1104.5,581.5 1112.5,583.5 1120.5,587.5 1128.5,589.5 1136.5,596.5 1144.5,602.5 1152.5,602.5 1160.5,607.5 1168.5,605.5 1176.5,600.5 1184.5,596.5 1192.5,592.5 1200.5,586.5 1208.5,579.5 1216.5,576.5 1224.5,573.5 1232.5,564.5 1240.5,556.5 1248.5,548.5 1256.5,540.5 1264.5,533.5 1272.5,535.5 1280.5,549.5 1288.5,554.5 1296.5,560.5 1304.5,565.5 1312.5,566.5" fill="none" stroke="#000" stroke-width="1" shape-rendering="crispEdges"/>
<path d="M1317 8h2v1h-2zM1317 42h2v1h-2zM1317 75h2v1h-2zM1317 109h2v1h-2zM1317 142h2v1h-2zM1317 175h2v1h-2zM1317 209h2v1h-2zM1317 242h2v1h-2zM1317 276h2v1h-2zM1317 309h2v1h-2zM1317 343h2v1h-2zM1317 376h2v1h-2zM1317 410h2v1h-2zM1317 443h2v1h-2zM1317 476h2v1h-2zM1317 510h2v1h-2zM1317 517h1v1h-1zM1317 659h1v1h-1zM0 661h1v3h-1zM64 661h1v3h-1zM128 661h1v3h-1zM192 661h1v3h-1zM256 661h1v3h-1zM320 661h1v3h-1zM384 661h1v3h-1zM448 661h1v3h-1zM512 661h1v3h-1zM576 661h1v3h-1zM640 661h1v3h-1zM704 661h1v3h-1zM768 661h1v3h-1zM832 661h1v3h-1zM896 661h1v3h-1zM960 661h1v3h-1zM1024 661h1v3h-1zM1088 661h1v3h-1zM1152 661h1v3h-1zM1216 661h1v3h-1zM1280 661h1v3h-1z" fill="#000"/>
<g font-family="Liberation Sans, sans-serif" font-size="9.7" fill="#000" stroke="#000" stroke-width="0.12" text-rendering="geometricPrecision"><text transform="translate(1322 11) scale(0.95 1)">1.35830</text><text transform="translate(1322 45) scale(0.95 1)">1.35715</text><text transform="translate(1322 78) scale(0.95 1)">1.35600</text><text transform="translate(1322 112) scale(0.95 1)">1.35485</text><text transform="translate(1322 145) scale(0.95 1)">1.35370</text><text transform="translate(1322 178) scale(0.95 1)">1.35255</text><text transform="translate(1322 212) scale(0.95 1)">1.35140</text><text transform="translate(1322 245) scale(0.95 1)">1.35025</text><text transform="translate(1322 279) scale(0.95 1)">1.34910</text><text transform="translate(1322 312) scale(0.95 1)">1.34795</text><text transform="translate(1322 346) scale(0.95 1)">1.34680</text><text transform="translate(1322 379) scale(0.95 1)">1.34565</text><text transform="translate(1322 413) scale(0.95 1)">1.34450</text><text transform="translate(1322 446) scale(0.95 1)">1.34340</text><text transform="translate(1322 479) scale(0.95 1)">1.34225</text><text transform="translate(1322 513) scale(0.95 1)">1.34110</text><text transform="translate(1319.5 527) scale(1.0 1)">63</text><text transform="translate(1319.5 550) scale(1.0 1)">50</text><text transform="translate(1319.5 619) scale(1.0 1)">20</text><text transform="translate(1319.5 657) scale(1.0 1)">1</text><text transform="translate(-1 673) scale(1.0 1)">19 Nov 2013</text><text transform="translate(63 673) scale(1.0 1)">19 Nov 04:45</text><text transform="translate(127 673) scale(1.0 1)">19 Nov 06:45</text><text transform="translate(191 673) scale(1.0 1)">19 Nov 08:45</text><text transform="translate(255 673) scale(1.0 1)">19 Nov 10:45</text><text transform="translate(319 673) scale(1.0 1)">19 Nov 12:45</text><text transform="translate(383 673) scale(1.0 1)">19 Nov 14:45</text><text transform="translate(447 673) scale(1.0 1)">19 Nov 16:45</text><text transform="translate(511 673) scale(1.0 1)">19 Nov 18:45</text><text transform="translate(575 673) scale(1.0 1)">19 Nov 20:45</text><text transform="translate(639 673) scale(1.0 1)">19 Nov 22:45</text><text transform="translate(703 673) scale(1.0 1)">20 Nov 00:45</text><text transform="translate(767 673) scale(1.0 1)">20 Nov 02:45</text><text transform="translate(831 673) scale(1.0 1)">20 Nov 04:45</text><text transform="translate(895 673) scale(1.0 1)">20 Nov 06:45</text><text transform="translate(959 673) scale(1.0 1)">20 Nov 08:45</text><text transform="translate(1023 673) scale(1.0 1)">20 Nov 10:45</text><text transform="translate(1087 673) scale(1.0 1)">20 Nov 12:45</text><text transform="translate(1151 673) scale(1.0 1)">20 Nov 14:45</text><text transform="translate(1215 673) scale(1.0 1)">20 Nov 16:45</text><text transform="translate(1279 673) scale(1.0 1)">20 Nov 18:45</text><text transform="translate(15 10) scale(0.965 1)">EURUSD,M15&#160;&#160;1.36325 1.36325 1.36272 1.36274</text></g>
<path d="M3 5h7v1h-7zM4 6h5v1h-5zM5 7h3v1h-3zM6 8h1v1h-1z" fill="#000"/>
<polygon points="1048,0 1055,0 1051.5,4" fill="#b4b4b4"/>
<polygon points="0,655 0,660 5,660" fill="#c0c0c0"/>
<line x1="825.5" y1="136.6" x2="862.0" y2="171.3" stroke="#000" stroke-width="3.2" stroke-linecap="round"/>
<polygon points="867.0,160.2 867.0,176.2 851.7,176.2" fill="#000"/>
<line x1="959.6" y1="260.5" x2="996.1" y2="295.2" stroke="#000" stroke-width="3.2" stroke-linecap="round"/>
<polygon points="1001.1,284.1 1001.1,300.1 985.8,300.1" fill="#000"/>
<line x1="1094.6" y1="366.4" x2="1131.1" y2="401.1" stroke="#000" stroke-width="3.2" stroke-linecap="round"/>
<polygon points="1136.1,390.0 1136.1,406.0 1120.8,406.0" fill="#000"/>
<path d="M789 531.2H791V544H789V534.3L786.2 536.3L785.6 534.5Z" fill="#000"/>
<line x1="792.6" y1="560" x2="803.2" y2="594" stroke="#000" stroke-width="2"/>
<polygon points="795.5,596.2 809.8,591.3 804.6,600.6" fill="#000"/>
<line x1="846.8" y1="545" x2="846.8" y2="581" stroke="#000" stroke-width="2"/>
<polygon points="838.8,580 854.8,580 846.8,588" fill="#000"/>
<line x1="1149.4" y1="553.5" x2="1147" y2="588" stroke="#000" stroke-width="2"/>
<polygon points="1138.8,587.5 1155,587.8 1146.4,596" fill="#000"/>
<g font-family="Liberation Sans, sans-serif" font-size="19" fill="#000"><text x="777" y="543.5">(</text><text x="795.3" y="543.5">)</text><text x="834" y="533.7">(2)</text><text x="1138" y="536.7">(3)</text></g>
</svg>
</body></html>
